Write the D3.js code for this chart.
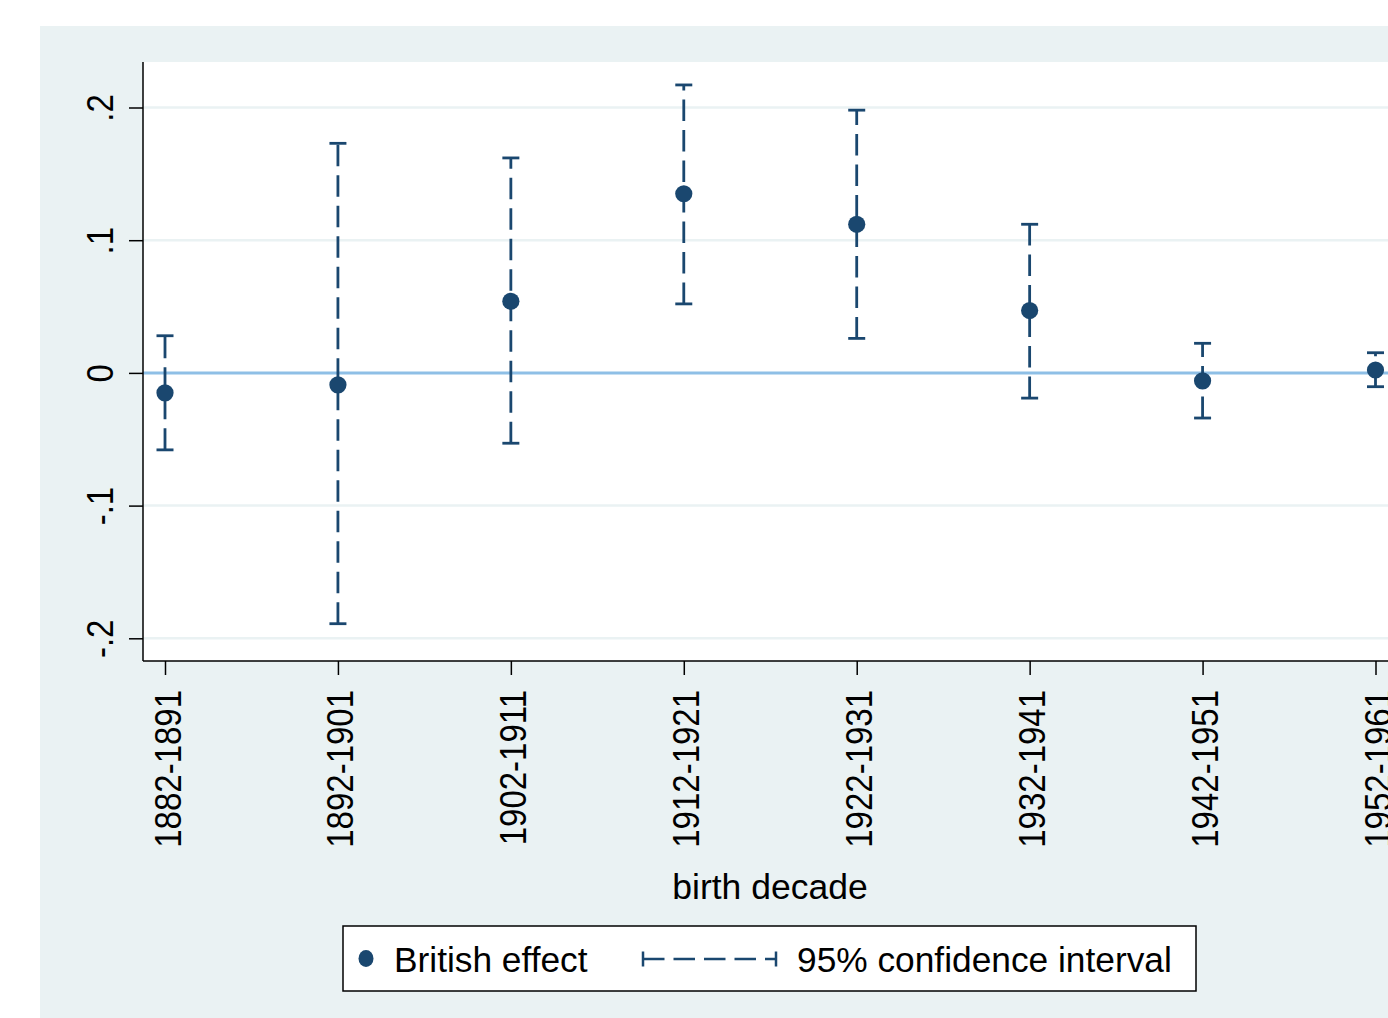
<!DOCTYPE html>
<html>
<head>
<meta charset="utf-8">
<script src="https://cdn.jsdelivr.net/npm/d3@7"></script>
<style>
  html, body { margin: 0; padding: 0; background: #ffffff; }
  svg { display: block; }
  text { font-family: "Liberation Sans", Arial, sans-serif; fill: #000; }
</style>
</head>
<body>
<svg id="chart" width="1388" height="1018"></svg>
<script>
// ---- data ----
const categories = ["1882-1891", "1892-1901", "1902-1911", "1912-1921", "1922-1931", "1932-1941", "1942-1951", "1952-1961"];
const effect  = [-0.015, -0.009, 0.054, 0.135, 0.112, 0.047, -0.006, 0.0022];
const ciLower = [-0.058, -0.189, -0.053, 0.052, 0.026, -0.019, -0.034, -0.0104];
const ciUpper = [0.028, 0.173, 0.162, 0.217, 0.198, 0.112, 0.0223, 0.0152];
const yTicks = [-0.2, -0.1, 0, 0.1, 0.2];
const yTickLabels = ["-.2", "-.1", "0", ".1", ".2"];
const xTitle = "birth decade";
const legendLabels = ["British effect", "95% confidence interval"];

// ---- style ----
const navy = "#1a476f";
const bg = "#eaf2f3";
const zeroColor = "#8ebfe6";

const svg = d3.select("#chart");

// outer panel
svg.append("rect").attr("x", 40).attr("y", 26).attr("width", 1400).attr("height", 1000).attr("fill", bg);

const plot = { left: 143, top: 62, right: 1397, bottom: 661 };
svg.append("rect")
  .attr("x", plot.left).attr("y", plot.top)
  .attr("width", plot.right - plot.left).attr("height", plot.bottom - plot.top)
  .attr("fill", "#ffffff");

const x = d3.scalePoint().domain(categories).range([165, 1375.5]);
const y = d3.scaleLinear().domain([-0.2, 0.2]).range([638.3, 107.5]);

// gridlines
svg.append("g").selectAll("line").data(yTicks.filter(d => d !== 0)).join("line")
  .attr("x1", plot.left).attr("x2", plot.right)
  .attr("y1", d => y(d)).attr("y2", d => y(d))
  .attr("stroke", bg).attr("stroke-width", 2.5);

// zero line
svg.append("line")
  .attr("x1", plot.left).attr("x2", plot.right)
  .attr("y1", y(0)).attr("y2", y(0))
  .attr("stroke", zeroColor).attr("stroke-width", 3);

// y axis
const yAxis = d3.axisLeft(y).tickValues(yTicks).tickSize(14).tickFormat((d, i) => yTickLabels[i]);
const gy = svg.append("g").attr("transform", `translate(${plot.left},0)`).call(yAxis);
gy.select(".domain").attr("d", `M0,${plot.top}V${plot.bottom}`).attr("stroke", "#000").attr("stroke-width", 1.5);
gy.selectAll(".tick line").attr("stroke", "#000").attr("stroke-width", 1.5);
gy.selectAll(".tick text")
  .attr("x", null).attr("dy", null)
  .attr("transform", "translate(-30,0) rotate(-90) scale(1,1.1)")
  .attr("text-anchor", "middle")
  .style("font-size", "33px")
  .style("font-family", "'Liberation Sans', Arial, sans-serif")
  .attr("fill", "#000");

// x axis
const xAxis = d3.axisBottom(x).tickSize(14);
const gx = svg.append("g").attr("transform", `translate(0,${plot.bottom})`).call(xAxis);
gx.select(".domain").attr("d", `M${plot.left},0H${plot.right}`).attr("stroke", "#000").attr("stroke-width", 1.5);
gx.selectAll(".tick line").attr("stroke", "#000").attr("stroke-width", 1.5);
gx.selectAll(".tick text")
  .attr("y", null).attr("dy", null)
  .attr("transform", "translate(15,29) rotate(-90) scale(1,1.12)")
  .attr("text-anchor", "end")
  .style("font-size", "33px")
  .style("font-family", "'Liberation Sans', Arial, sans-serif")
  .attr("fill", "#000");

// CI bars
const idx = d3.range(categories.length);
const ci = svg.append("g");
ci.selectAll("line.ci").data(idx).join("line").attr("class", "ci")
  .attr("x1", i => x(categories[i])).attr("x2", i => x(categories[i]))
  .attr("y1", i => y(ciLower[i])).attr("y2", i => y(ciUpper[i]))
  .attr("stroke", navy).attr("stroke-width", 2.8).attr("stroke-dasharray", "21.5,9");
ci.selectAll("line.capU").data(idx).join("line").attr("class", "capU")
  .attr("x1", i => x(categories[i]) - 8.5).attr("x2", i => x(categories[i]) + 8.5)
  .attr("y1", i => y(ciUpper[i])).attr("y2", i => y(ciUpper[i]))
  .attr("stroke", navy).attr("stroke-width", 2.8);
ci.selectAll("line.capL").data(idx).join("line").attr("class", "capL")
  .attr("x1", i => x(categories[i]) - 8.5).attr("x2", i => x(categories[i]) + 8.5)
  .attr("y1", i => y(ciLower[i])).attr("y2", i => y(ciLower[i]))
  .attr("stroke", navy).attr("stroke-width", 2.8);

// points
svg.append("g").selectAll("circle").data(idx).join("circle")
  .attr("cx", i => x(categories[i])).attr("cy", i => y(effect[i]))
  .attr("r", 8.6).attr("fill", navy);

// x title
svg.append("text").attr("x", 770).attr("y", 899).attr("text-anchor", "middle")
  .style("font-size", "35.5px").text(xTitle);

// legend
const lg = svg.append("g");
lg.append("rect").attr("x", 343).attr("y", 926).attr("width", 853).attr("height", 65)
  .attr("fill", "#fff").attr("stroke", "#000").attr("stroke-width", 1.5);
lg.append("ellipse").attr("cx", 366).attr("cy", 958.5).attr("rx", 7.5).attr("ry", 8.5).attr("fill", navy);
lg.append("text").attr("x", 394).attr("y", 971.5).style("font-size", "35.3px").text(legendLabels[0]);
lg.append("line").attr("x1", 643).attr("x2", 776).attr("y1", 959).attr("y2", 959)
  .attr("stroke", navy).attr("stroke-width", 2.5).attr("stroke-dasharray", "21.5,9");
lg.append("line").attr("x1", 643).attr("x2", 643).attr("y1", 951.5).attr("y2", 966.5)
  .attr("stroke", navy).attr("stroke-width", 2.5);
lg.append("line").attr("x1", 776).attr("x2", 776).attr("y1", 951.5).attr("y2", 966.5)
  .attr("stroke", navy).attr("stroke-width", 2.5);
lg.append("text").attr("x", 797).attr("y", 971.5).style("font-size", "35.3px").text(legendLabels[1]);
</script>
</body>
</html>
